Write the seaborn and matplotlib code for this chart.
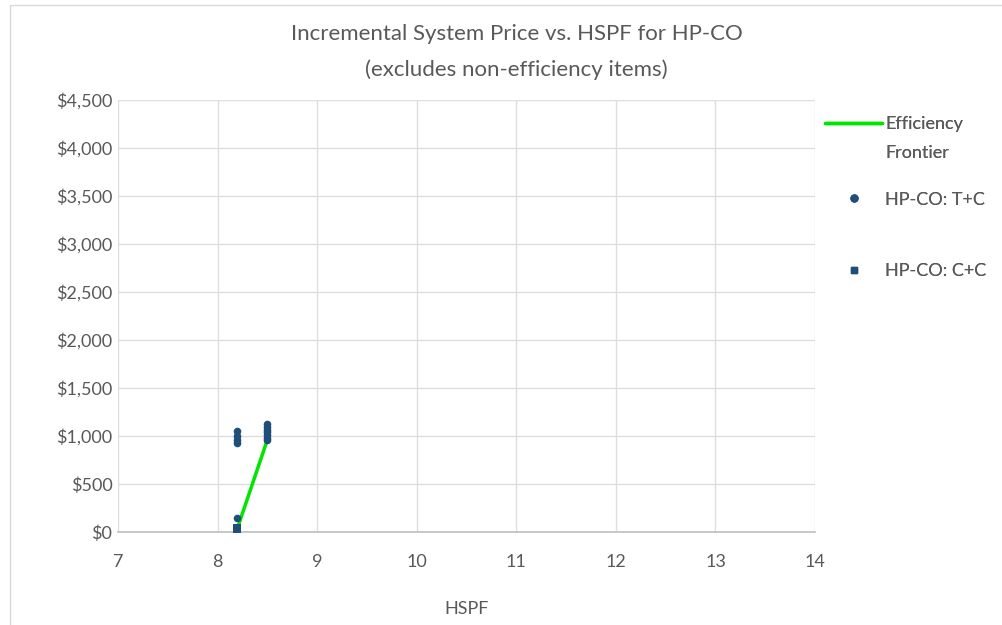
import matplotlib
matplotlib.use("Agg")
import matplotlib.pyplot as plt
import seaborn as sns
import pandas as pd
from matplotlib.ticker import FuncFormatter, MultipleLocator
from matplotlib.lines import Line2D
from matplotlib.patches import Rectangle

# Data
tc_hspf = [8.2, 8.2, 8.2, 8.2, 8.2, 8.5, 8.5, 8.5, 8.5, 8.5, 8.5, 8.5]
tc_price = [1050, 1000, 960, 930, 150, 1120, 1090, 1060, 1040, 1010, 980, 960]
cc_hspf = [8.2, 8.2]
cc_price = [40, 5]
frontier_hspf = [8.2, 8.5]
frontier_price = [40, 960]

sns.set_theme(style="white")
plt.rcParams["font.family"] = ["Lato", "DejaVu Sans"]
text_color = "#595959"
marker_color = "#1F4E79"

fig = plt.figure(figsize=(10.03, 6.25), dpi=100)
ax = fig.add_axes([0.1176, 0.1488, 0.8126 - 0.1176, 0.84 - 0.1488])

df_tc = pd.DataFrame({"HSPF": tc_hspf, "Price": tc_price})
df_cc = pd.DataFrame({"HSPF": cc_hspf, "Price": cc_price})
df_fr = pd.DataFrame({"HSPF": frontier_hspf, "Price": frontier_price})

sns.lineplot(data=df_fr, x="HSPF", y="Price", ax=ax, color="#00E600", linewidth=2.5, zorder=3)
sns.scatterplot(data=df_tc, x="HSPF", y="Price", ax=ax, color=marker_color, marker="o", s=30,
                edgecolor=marker_color, linewidth=0, zorder=4)
sns.scatterplot(data=df_cc, x="HSPF", y="Price", ax=ax, color=marker_color, marker="s", s=40,
                edgecolor=marker_color, linewidth=0, zorder=4)

ax.set_xlim(7, 14)
ax.set_ylim(0, 4500)
ax.xaxis.set_major_locator(MultipleLocator(1))
ax.yaxis.set_major_locator(MultipleLocator(500))
ax.yaxis.set_major_formatter(FuncFormatter(lambda v, p: f"${v:,.0f}"))
ax.grid(True, color="#DEDEDE", linewidth=1)
ax.set_axisbelow(True)
for side in ["top", "right", "left"]:
    ax.spines[side].set_visible(False)
ax.spines["bottom"].set_color("#BFBFBF")
ax.spines["bottom"].set_linewidth(1.2)
ax.tick_params(axis="both", colors=text_color, labelsize=13, length=0)
ax.tick_params(axis="x", pad=16)
ax.tick_params(axis="y", pad=4)

ax.set_xlabel("HSPF", color=text_color, fontsize=13, labelpad=22)
ax.set_ylabel("")
fig.text(0.515, 0.946, "Incremental System Price vs. HSPF for HP-CO", ha="center", va="center",
         color=text_color, fontsize=16)
fig.text(0.515, 0.889, "(excludes non-efficiency items)", ha="center", va="center",
         color=text_color, fontsize=16)

# Legend entries placed one by one down the right margin
blank = Line2D([], [], linestyle="", marker="")
entries = [
    (Line2D([], [], color="#00E600", linewidth=2.5), "Efficiency", 0.826),
    (blank, "Frontier", 0.780),
    (Line2D([], [], color=marker_color, marker="o", linestyle="", markersize=5), "HP-CO: T+C", 0.705),
    (Line2D([], [], color=marker_color, marker="s", linestyle="", markersize=5), "HP-CO: C+C", 0.590),
]
for handle, label, ytop in entries:
    leg = fig.legend([handle], [label], loc="upper left", bbox_to_anchor=(0.815, ytop),
                     frameon=False, fontsize=13, handlelength=3.2,
                     handletextpad=0.15, borderaxespad=0)
    for t in leg.get_texts():
        t.set_color(text_color)
    fig.add_artist(leg)

fig.patches.append(Rectangle((0.01, -0.01), 1.0, 1.002, transform=fig.transFigure,
                             fill=False, edgecolor="#D9D9D9", linewidth=1))

fig.savefig("out.png", dpi=100)
